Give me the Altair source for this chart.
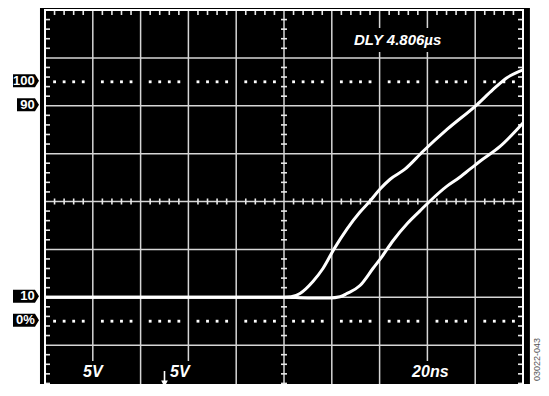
import altair as alt
import pandas as pd

# ---- data (x: ns, y: % of swing) ----
a_ns = [0, 100, 103, 106.7, 112.1, 116.3, 120.9, 126.4, 131.8, 136.0, 140.2, 144.4, 150.6, 158.2, 168.2, 180.8, 187.4, 193.3, 200]
a_pct = [10, 10, 10.2, 11.6, 16.6, 22.0, 30.1, 38.6, 45.6, 50.2, 55.2, 59.3, 63.5, 71.0, 80.1, 90.5, 96.7, 101.7, 105]
b_ns = [0, 100, 110, 119.2, 123.4, 126.4, 131.8, 137.2, 141.0, 145.6, 151.5, 156.9, 161.1, 168.2, 172.4, 177.8, 182.0, 190.4, 200]
b_pct = [10, 10, 9.7, 9.7, 10.2, 11.6, 14.9, 22.0, 27.0, 33.6, 40.7, 46.1, 50.2, 56.4, 59.3, 63.5, 66.8, 73.0, 82.8]

grid_x = [20, 40, 60, 80, 100, 120, 140, 160, 180]
grid_y = [-10, 10, 30, 50, 70, 90, 110]
dot_levels = [0, 100]
level_labels = ["100", "90", "10", "0%"]
level_values = [100, 90, 10, 0]

texts = ["DLY 4.806\u00b5s", "5V", "5V", "20ns"]
text_x = [129.3, 15.9, 52.3, 153.6]
text_y = [117.5, -21.4, -21.4, -21.4]
text_size = [15, 16, 16, 16]

# 10 divisions of 20 ns, 8 divisions of 20 %; the window cuts the bottom few pixels
PX_PER_PCT = 383 / 160.0
PLOT_H = 374
Y_MIN = 130 - PLOT_H / PX_PER_PCT
XS = alt.Scale(domain=[0, 200], nice=False, zero=False)
YS = alt.Scale(domain=[Y_MIN, 130], nice=False, zero=False)


def X(f="ns"):
    return alt.X(f + ":Q", scale=XS, axis=None)


def Y(f="pct"):
    return alt.Y(f + ":Q", scale=YS, axis=None)


# black scope frame
frame = alt.Chart(pd.DataFrame({"ns": [-2.1], "ns2": [202.9], "pct": [-31.3], "pct2": [130.9]})).mark_rect(
    color="black"
).encode(x=X(), x2="ns2:Q", y=Y(), y2="pct2:Q")

vgrid = alt.Chart(pd.DataFrame({"ns": grid_x})).mark_rule(color="#d6d6d6", strokeWidth=1.5).encode(
    x=X(), y=alt.value(0), y2=alt.value(390)
)
hgrid = alt.Chart(pd.DataFrame({"pct": grid_y})).mark_rule(color="#d6d6d6", strokeWidth=1.5).encode(y=Y())

# minor ticks
minor_x = [v for v in range(4, 200, 4) if v % 20 != 0]
minor_y = [-30 + 4 * k for k in range(1, 40) if k % 5 != 0]
rows = []
for v in minor_x:
    rows.append({"ns": v, "pct": 130, "path": "M0,0L0,1", "sz": 100})
    rows.append({"ns": v, "pct": -30, "path": "M0,-1L0,0", "sz": 100})
    rows.append({"ns": v, "pct": 50, "path": "M0,-1L0,1", "sz": 36})
for v in minor_y:
    rows.append({"ns": 0, "pct": v, "path": "M0,0L1,0", "sz": 100})
    rows.append({"ns": 200, "pct": v, "path": "M-1,0L0,0", "sz": 100})
    rows.append({"ns": 100, "pct": v, "path": "M-1,0L1,0", "sz": 36})
ticks = alt.Chart(pd.DataFrame(rows)).mark_point(
    filled=False, color="#e8e8e8", strokeWidth=1.6, opacity=1
).encode(x=X(), y=Y(), shape=alt.Shape("path:N", scale=None), size=alt.Size("sz:Q", scale=None))

dots = alt.Chart(pd.DataFrame([{"ns": v, "pct": l} for l in dot_levels for v in minor_x])).mark_square(
    color="white", size=8, opacity=1
).encode(x=X(), y=Y())

# black boxes behind the on-screen readouts
boxes = alt.Chart(pd.DataFrame({
    "ns": [126.8, 13.0, 48.1, 150.6],
    "ns2": [171.5, 27.2, 64.0, 170.7],
    "pct": [112.5, -16.6, -16.6, -16.6],
    "pct2": [122.5, -27.5, -27.5, -27.5],
})).mark_rect(color="black").encode(x=X(), x2="ns2:Q", y=Y(), y2="pct2:Q")

border = alt.Chart(pd.DataFrame({"ns": [0], "ns2": [200], "pct": [-30], "pct2": [130]})).mark_rect(
    filled=False, stroke="white", strokeWidth=2
).encode(x=X(), x2="ns2:Q", y=Y(), y2="pct2:Q")

traces = alt.Chart(pd.DataFrame({
    "ns": a_ns + b_ns, "pct": a_pct + b_pct,
    "trace": ["A"] * len(a_ns) + ["B"] * len(b_ns),
})).mark_line(color="white", strokeWidth=3, interpolate="monotone").encode(
    x=X(), y=Y(), detail="trace:N"
)

readouts = alt.Chart(pd.DataFrame({"ns": text_x, "pct": text_y, "t": texts, "fs": text_size})).mark_text(
    font="Liberation Sans", fontWeight="bold", fontStyle="italic", color="white", align="left", baseline="middle"
).encode(x=X(), y=Y(), text="t:N", size=alt.Size("fs:Q", scale=None))

arrow = alt.Chart(pd.DataFrame({"ns": [50.0], "pct": [-24.1]})).mark_point(
    filled=True, color="white", opacity=1, size=256,
    shape="M-0.1,-1L0.1,-1L0.1,0.2L0.42,0.2L0,1L-0.42,0.2L-0.1,0.2Z"
).encode(x=X(), y=Y())

tag_paths = [
    "M-1,-0.5L0.69,-0.5L1,0L0.69,0.5L-1,0.5Z",
    "M-0.69,-0.5L0.69,-0.5L1,0L0.69,0.5L-0.69,0.5Z",
    "M-1,-0.5L0.69,-0.5L1,0L0.69,0.5L-1,0.5Z",
    "M-1,-0.5L0.69,-0.5L1,0L0.69,0.5L-1,0.5Z",
]
tags_df = pd.DataFrame({"lab": level_labels, "pct": level_values, "path": tag_paths,
                        "ns": [-7.95] * 4, "tx": [-4.3] * 4})
tags = alt.Chart(tags_df).mark_point(filled=True, color="black", opacity=1, size=676, yOffset=-1).encode(
    x=X(), y=Y(), shape=alt.Shape("path:N", scale=None)
)
tag_text = alt.Chart(tags_df).mark_text(
    font="Liberation Sans", fontWeight="bold", fontSize=13, color="white", align="right", baseline="middle", dy=-1
).encode(x=X("tx"), y=Y(), text="lab:N")

fignum = alt.Chart(pd.DataFrame({"ns": [205.9], "pct": [-16], "t": ["03022-043"]})).mark_text(
    font="Liberation Sans", fontSize=9, color="#555555", angle=270, align="center", baseline="middle"
).encode(x=X(), y=Y(), text="t:N")

chart = alt.layer(
    frame, vgrid, hgrid, ticks, dots, boxes, border, traces, readouts, arrow, tags, tag_text, fignum
).properties(
    width=478, height=PLOT_H,
    autosize=alt.AutoSizeParams(type="none"),
    padding={"left": 37, "top": 2, "right": 18, "bottom": 0},
).configure_view(stroke=None).configure(background="white")

chart.save("out.html", embed_options={"renderer": "svg", "actions": False})
